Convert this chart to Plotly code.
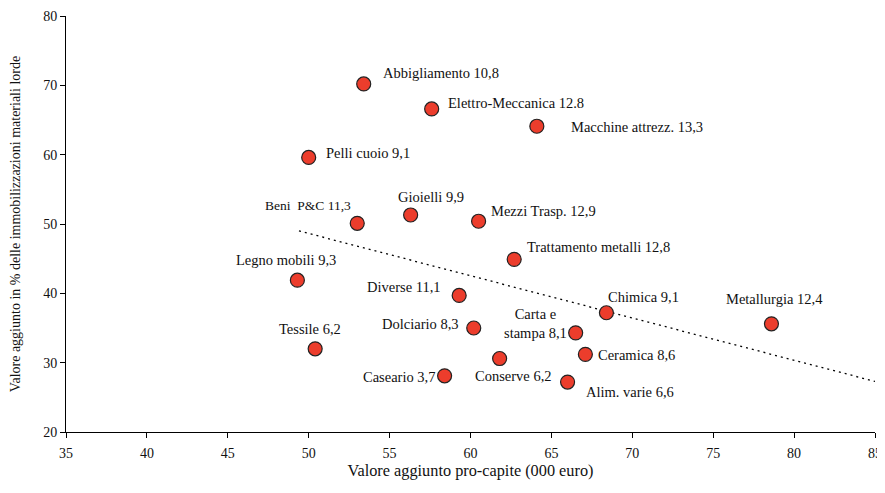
import plotly.graph_objects as go

sectors = ["Abbigliamento 10,8", "Elettro-Meccanica 12.8", "Macchine attrezz. 13,3", "Pelli cuoio 9,1",
           "Beni  P&C 11,3", "Gioielli 9,9", "Mezzi Trasp. 12,9", "Trattamento metalli 12,8",
           "Legno mobili 9,3", "Diverse 11,1", "Chimica 9,1", "Metallurgia 12,4",
           "Carta e<br>stampa 8,1", "Dolciario 8,3", "Tessile 6,2", "Ceramica 8,6",
           "Conserve 6,2", "Caseario 3,7", "Alim. varie 6,6"]
va_pro_capite = [53.4, 57.6, 64.1, 50.0, 53.0, 56.3, 60.5, 62.7, 49.3, 59.3, 68.4, 78.6,
                 66.5, 60.2, 50.4, 67.1, 61.8, 58.4, 66.0]
va_immob = [70.2, 66.6, 64.1, 59.6, 50.1, 51.3, 50.4, 44.9, 41.9, 39.7, 37.2, 35.6,
            34.3, 35.0, 32.0, 31.2, 30.6, 28.1, 27.2]
trend_x = [49.4, 85.0]
trend_y = [49.0, 27.3]

# label placement: (xanchor, xshift, yshift)
label_pos = [("left", 17, 11), ("left", 14, 6), ("left", 32, -1), ("left", 15, 4),
             ("right", -4, 18), ("center", 20, 18), ("left", 10, 10), ("left", 11, 12),
             ("center", -11, 20), ("right", -16, 8), ("left", 0, 16), ("center", 3, 25),
             ("right", -7, 9), ("right", -13, 4), ("center", -5, 20), ("left", 11, -1),
             ("center", 14, -17), ("right", -8, -1), ("left", 16, -10)]

font_fam = "Liberation Serif"

fig = go.Figure()
fig.add_trace(go.Scatter(x=trend_x, y=trend_y, mode="lines",
                         line=dict(color="black", width=1.3, dash="2px,4px"),
                         hoverinfo="skip", showlegend=False))
fig.add_trace(go.Scatter(x=va_pro_capite, y=va_immob, mode="markers",
                         marker=dict(size=14, color="#EC3D2C", line=dict(color="#222222", width=1.2)),
                         text=sectors, showlegend=False))

for name, xv, yv, (xa, xs, ys) in zip(sectors, va_pro_capite, va_immob, label_pos):
    fig.add_annotation(x=xv, y=yv, text=name, showarrow=False, xanchor=xa, yanchor="middle",
                       xshift=xs, yshift=ys, align="center",
                       font=dict(family=font_fam, size=13.5 if name.startswith("Beni") else 14.5,
                                 color="#111111"))

# page has an 8px body margin, so the figure is sized 8px smaller than the window
fig.update_layout(
    width=877, height=485,
    margin=dict(l=58, r=10, t=8, b=61),
    paper_bgcolor="white", plot_bgcolor="white",
    font=dict(family=font_fam, size=14, color="#111111"),
    xaxis=dict(range=[35, 85], dtick=5, tick0=35, showgrid=False, zeroline=False,
               showline=True, linecolor="black", linewidth=1, ticks="outside", ticklen=5,
               tickcolor="black", automargin=False, ticklabelstandoff=3,
               title=dict(text="Valore aggiunto pro-capite (000 euro)", font=dict(size=16.3), standoff=4)),
    yaxis=dict(range=[20, 80], dtick=10, showgrid=False, zeroline=False,
               showline=True, linecolor="black", linewidth=1, ticks="outside", ticklen=5,
               tickcolor="black", automargin=False, ticklabelstandoff=0,
               title=dict(text="Valore aggiunto in % delle immobilizzazioni materiali lorde",
                          font=dict(size=14), standoff=19)),
)

fig.write_html("out.html")
